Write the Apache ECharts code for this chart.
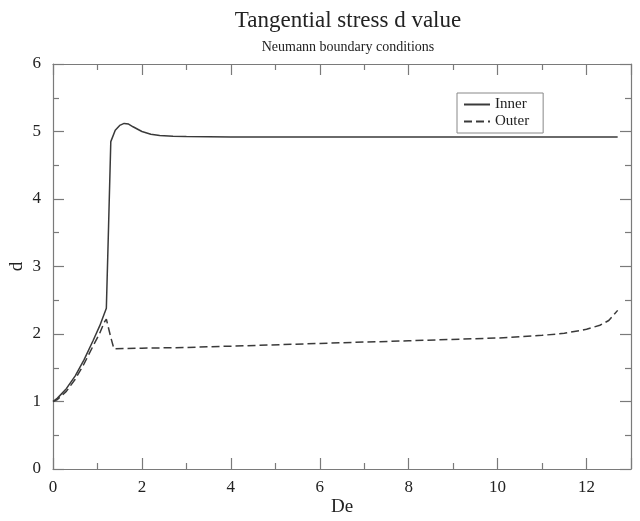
<!DOCTYPE html>
<html><head><meta charset="utf-8">
<script src="https://cdn.jsdelivr.net/npm/echarts@6/dist/echarts.min.js"></script>
<style>html,body{margin:0;padding:0;background:#fff}#c{width:640px;height:521px}</style>
</head><body><div id="c"></div>
<script>
const innerX = [0,0.1,0.3,0.5,0.7,0.9,1.05,1.2,1.25,1.3,1.4,1.5,1.6,1.7,1.8,2.0,2.2,2.4,2.7,3.0,4.0,6,8,10,12,12.7];
const innerY = [1.0,1.05,1.19,1.38,1.62,1.9,2.12,2.38,3.6,4.85,5.02,5.09,5.12,5.11,5.07,5.0,4.96,4.94,4.93,4.925,4.92,4.92,4.92,4.92,4.92,4.92];
const outerX = [0,0.1,0.3,0.5,0.7,0.9,1.05,1.15,1.2,1.3,1.37,2,3,4,6,8,10,11,11.5,12,12.3,12.5,12.7];
const outerY = [1.0,1.03,1.15,1.33,1.56,1.82,2.01,2.17,2.22,1.95,1.78,1.79,1.80,1.82,1.86,1.90,1.94,1.98,2.01,2.07,2.13,2.2,2.35];
const titleText = "Tangential stress d value";
const subtitleText = "Neumann boundary conditions";
const seriesNames = ["Inner","Outer"];
const xName = "De", yName = "d";

const font = "Liberation Serif";
const axisCol = "#7a7a7a";
const lineCol = "#3a3a3a";
const chart = echarts.init(document.getElementById('c'));
function ax(extra){
  return Object.assign({
    type:'value',
    axisLine:{show:true,onZero:false,lineStyle:{color:axisCol,width:1.2}},
    axisTick:{show:true,inside:true,length:11,lineStyle:{color:axisCol,width:1.2}},
    minorTick:{show:true,splitNumber:2,length:6,lineStyle:{color:axisCol,width:1.2}},
    splitLine:{show:false},
    axisLabel:{fontFamily:font,fontSize:17,color:'#222'}
  },extra);
}
chart.setOption({
  animation:false,
  title:[
    {text:titleText,left:343,top:4,textAlign:'center',textStyle:{fontFamily:font,fontSize:23,fontWeight:'normal',color:'#222'}},
    {text:subtitleText,left:343,top:35,textAlign:'center',textStyle:{fontFamily:font,fontSize:14,fontWeight:'normal',color:'#222'}}
  ],
  grid:{left:53,right:9,top:64,bottom:52,containLabel:false,outerBoundsMode:'none'},
  legend:{
    orient:'vertical',left:457,top:93,itemWidth:26,itemHeight:10,itemGap:2,
    borderColor:'#888',borderWidth:1,padding:[4,14,4,6],
    itemStyle:{opacity:0},
    textStyle:{fontFamily:font,fontSize:15,color:'#222'},
    data:seriesNames
  },
  xAxis:[
    ax({min:0,max:13,interval:2,name:xName,nameLocation:'middle',nameGap:29,nameMoveOverlap:false,
      nameTextStyle:{fontFamily:font,fontSize:19,color:'#222'},
      axisLabel:{fontFamily:font,fontSize:17,color:'#222',margin:10,
        formatter:v=>v>12?'':String(v)}}),
    ax({min:0,max:13,interval:2,position:'top',axisLabel:{show:false}})
  ],
  yAxis:[
    ax({min:0,max:6,interval:1,name:yName,nameLocation:'middle',nameGap:26,nameMoveOverlap:false,
      nameTextStyle:{fontFamily:font,fontSize:19,color:'#222'},
      axisLabel:{fontFamily:font,fontSize:17,color:'#222',margin:12}}),
    ax({min:0,max:6,interval:1,position:'right',axisLabel:{show:false}})
  ],
  series:[
    {name:seriesNames[0],type:'line',symbol:'none',smooth:false,
      data:innerX.map((x,i)=>[x,innerY[i]]),
      lineStyle:{color:lineCol,width:1.5},itemStyle:{color:lineCol}},
    {name:seriesNames[1],type:'line',symbol:'none',smooth:false,
      data:outerX.map((x,i)=>[x,outerY[i]]),
      lineStyle:{color:lineCol,width:1.5,type:[8,4]},itemStyle:{color:lineCol}}
  ]
});
</script></body></html>
